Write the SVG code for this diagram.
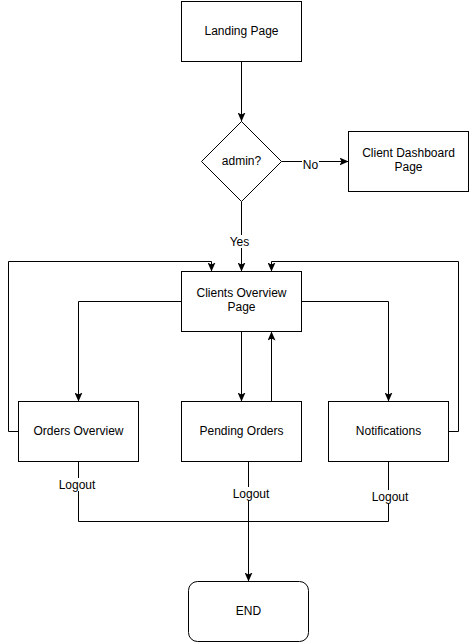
<svg xmlns="http://www.w3.org/2000/svg" width="470" height="643" viewBox="0 0 470 643">
<style>
.n{fill:#fff;stroke:#000;stroke-width:1}
.t{font-family:"Liberation Sans",Arial,sans-serif;font-size:12px;fill:#000;text-anchor:middle}
.l{font-family:"Liberation Sans",Arial,sans-serif;font-size:12px;fill:#000;text-anchor:middle}
.e{fill:none;stroke:#000;stroke-width:1}
.lb{fill:#fff}
</style>
<defs>
<marker id="a" viewBox="0 0 10 8" refX="9" refY="4" markerWidth="10" markerHeight="8" markerUnits="userSpaceOnUse" orient="auto">
<path d="M0,0 L9,4 L0,8 L2,4 Z" fill="#000"/>
</marker>
</defs>
<rect width="470" height="643" fill="#fff"/>
<g id="connectors">
<path class="e" d="M241.5,61.5 V121.5" marker-end="url(#a)"/>
<path class="e" d="M281.5,161.5 H348.5" marker-end="url(#a)"/>
<path class="e" d="M241.5,201.5 V271.5" marker-end="url(#a)"/>
<path class="e" d="M18.5,431.5 H8.5 V261.5 H211.5 V271.5" marker-end="url(#a)"/>
<path class="e" d="M448.5,431.5 H458.5 V261.5 H271.5 V271.5" marker-end="url(#a)"/>
<path class="e" d="M181.5,301.5 H78.5 V401.5" marker-end="url(#a)"/>
<path class="e" d="M301.5,301.5 H388.5 V401.5" marker-end="url(#a)"/>
<path class="e" d="M241.5,331.5 V401.5" marker-end="url(#a)"/>
<path class="e" d="M271.5,401.5 V331.5" marker-end="url(#a)"/>
<path class="e" d="M78.5,461.5 V521.5 H388.5 V461.5"/>
<path class="e" d="M248.5,461.5 V581.5" marker-end="url(#a)"/>
<rect class="lb" x="302" y="158" width="17" height="13"/>
<text class="l" x="310.5" y="169">No</text>
<rect class="lb" x="229" y="235" width="21" height="13"/>
<text class="l" x="239.5" y="246">Yes</text>
<rect class="lb" x="57" y="478" width="40" height="13"/>
<text class="l" x="77" y="489">Logout</text>
<rect class="lb" x="231" y="487" width="40" height="13"/>
<text class="l" x="251" y="498">Logout</text>
<rect class="lb" x="370" y="490" width="40" height="13"/>
<text class="l" x="390" y="501">Logout</text>
</g>
<g id="landing"><rect class="n" x="181.5" y="1.5" width="120" height="60"/><text class="t" x="241.5" y="35">Landing Page</text></g>
<g id="admin"><path class="n" d="M241.5,121.5 L281.5,161.5 L241.5,201.5 L201.5,161.5 Z"/><text class="t" x="241.5" y="165">admin?</text></g>
<g id="clientdash"><rect class="n" x="348.5" y="131.5" width="120" height="60"/><text class="t" x="408.5" y="157">Client Dashboard</text><text class="t" x="408.5" y="171">Page</text></g>
<g id="clientsoverview"><rect class="n" x="181.5" y="271.5" width="120" height="60"/><text class="t" x="241.5" y="297">Clients Overview</text><text class="t" x="241.5" y="311">Page</text></g>
<g id="orders"><rect class="n" x="18.5" y="401.5" width="120" height="60"/><text class="t" x="78.5" y="435">Orders Overview</text></g>
<g id="pending"><rect class="n" x="181.5" y="401.5" width="120" height="60"/><text class="t" x="241.5" y="435">Pending Orders</text></g>
<g id="notifications"><rect class="n" x="328.5" y="401.5" width="120" height="60"/><text class="t" x="388.5" y="435">Notifications</text></g>
<g id="end"><rect class="n" x="188.5" y="581.5" width="120" height="60" rx="9" ry="9"/><text class="t" x="248.5" y="615">END</text></g>
</svg>
